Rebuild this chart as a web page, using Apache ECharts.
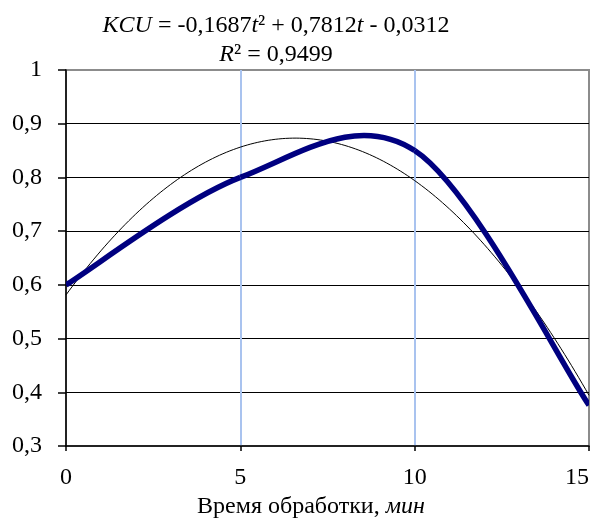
<!DOCTYPE html>
<html>
<head>
<meta charset="utf-8">
<script src="https://cdn.jsdelivr.net/npm/echarts@6/dist/echarts.min.js"></script>
<style>
  html, body { margin: 0; padding: 0; background: #fff; }
  #chart { width: 593px; height: 526px; }
</style>
</head>
<body>
<div id="chart"></div>
<script>
// Processing time, minutes
const timeMin = [0, 5, 10, 15];
// Measured KCU values
const kcuValues = [0.6, 0.8, 0.85, 0.376];
// Quadratic trend coefficients (a, b, c) for KCU = a*t^2 + b*t + c, t = point number
const trendCoef = [-0.1687, 0.7812, -0.0312];
const rSquared = '0,9499';

// Trend curve sampled along the time axis (t = 1 at the first point)
const trendData = [];
for (let i = 0; i <= 150; i++) {
  const x = i * 0.1;
  const t = x / 5 + 1;
  trendData.push([x, trendCoef[0] * t * t + trendCoef[1] * t + trendCoef[2]]);
}

const fmt = v => String(v).replace('.', ',');
const FONT = '"Liberation Serif", "Times New Roman", serif';
const FS = 24;
const rich = { i: { fontStyle: 'italic', fontSize: FS, fontFamily: FONT, fill: '#000' } };

// Smoothed measurement curve: cubic Bezier segments with Catmull-Rom style
// tangents (1/6 of the neighbour chord), computed in pixel space.
function renderSmooth(params, api) {
  const i = params.dataIndex;
  if (i >= timeMin.length - 1) return null;
  const P = k => {
    const kk = Math.max(0, Math.min(timeMin.length - 1, k));
    return api.coord([timeMin[kk], kcuValues[kk]]);
  };
  const p0 = P(i - 1), p1 = P(i), p2 = P(i + 1), p3 = P(i + 2);
  const c1 = [p1[0] + (p2[0] - p0[0]) / 6, p1[1] + (p2[1] - p0[1]) / 6];
  const c2 = [p2[0] - (p3[0] - p1[0]) / 6, p2[1] - (p3[1] - p1[1]) / 6];
  return {
    type: 'bezierCurve',
    shape: { x1: p1[0], y1: p1[1], x2: p2[0], y2: p2[1], cpx1: c1[0], cpy1: c1[1], cpx2: c2[0], cpy2: c2[1] },
    style: { stroke: '#000080', lineWidth: 5.5, fill: null, lineCap: 'butt', lineJoin: 'round' }
  };
}

const chart = echarts.init(document.getElementById('chart'), null, { renderer: 'canvas' });
chart.setOption({
  animation: false,
  backgroundColor: '#ffffff',
  textStyle: { fontFamily: FONT, color: '#000' },
  grid: {
    left: 66, right: 4, top: 70, bottom: 80,
    show: true, borderColor: '#8c8c8c', borderWidth: 2, backgroundColor: 'transparent'
  },
  graphic: [
    {
      type: 'text', x: 276, y: 26,
      style: {
        text: '{i|KCU} = -0,1687{i|t}² + 0,7812{i|t} - 0,0312',
        fontSize: FS, fontFamily: FONT, fill: '#000',
        align: 'center', verticalAlign: 'middle', rich: rich
      }
    },
    {
      type: 'text', x: 276, y: 55,
      style: {
        text: '{i|R}² = ' + rSquared,
        fontSize: FS, fontFamily: FONT, fill: '#000',
        align: 'center', verticalAlign: 'middle', rich: rich
      }
    },
    {
      type: 'text', x: 311, y: 507,
      style: {
        text: 'Время обработки, {i|мин}',
        fontSize: FS, fontFamily: FONT, fill: '#000',
        align: 'center', verticalAlign: 'middle', rich: rich
      }
    }
  ],
  xAxis: {
    type: 'value', min: 0, max: 15, interval: 5,
    axisLine: { show: true, onZero: false, lineStyle: { color: '#000', width: 1.5 } },
    axisTick: { show: true, length: 5, lineStyle: { color: '#000', width: 1.5 } },
    axisLabel: { fontSize: FS, fontFamily: FONT, color: '#000', margin: 20, alignMaxLabel: 'right' },
    splitLine: { show: true, showMinLine: false, showMaxLine: false, lineStyle: { color: '#a9c3ef', width: 2 } }
  },
  yAxis: {
    type: 'value', min: 0.3, max: 1, interval: 0.1,
    axisLine: { show: true, lineStyle: { color: '#000', width: 1.5 } },
    axisTick: { show: true, length: 8, lineStyle: { color: '#000', width: 1.5 } },
    axisLabel: {
      fontSize: FS, fontFamily: FONT, color: '#000', margin: 24,
      formatter: v => fmt(Math.round(v * 10) / 10)
    },
    splitLine: { show: true, showMinLine: false, showMaxLine: false, lineStyle: { color: '#000', width: 1.2 } }
  },
  series: [
    {
      name: 'trend', type: 'line', data: trendData, showSymbol: false, smooth: false,
      lineStyle: { color: '#000', width: 1 }, z: 3, silent: true
    },
    {
      name: 'KCU', type: 'custom', data: timeMin.map((x, i) => [x, kcuValues[i]]),
      encode: { x: 0, y: 1 }, renderItem: renderSmooth, clip: true, z: 4, silent: true
    }
  ]
});
</script>
</body>
</html>
